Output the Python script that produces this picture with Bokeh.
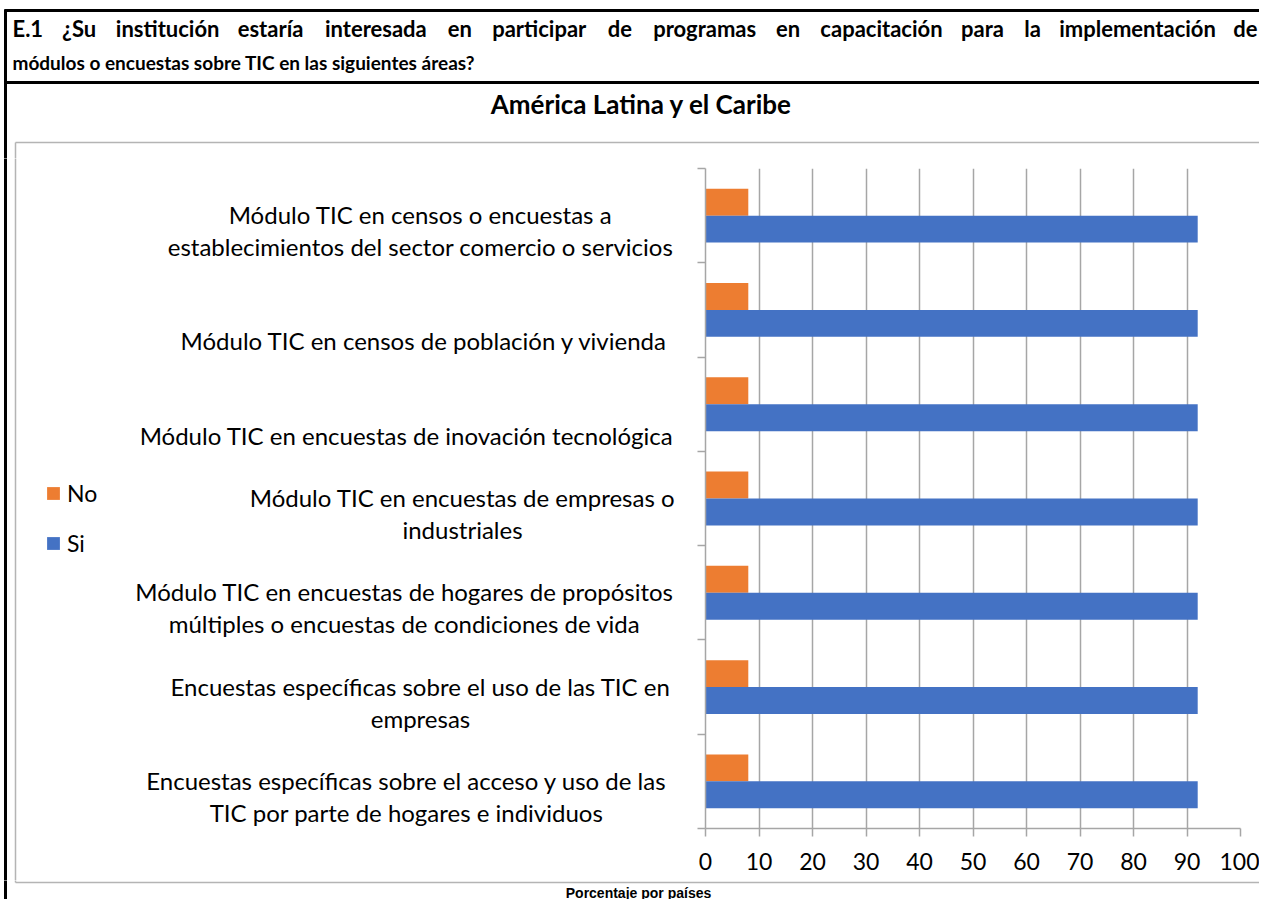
from bokeh.plotting import figure
from bokeh.layouts import column, row
from bokeh.models import (Range1d, FixedTicker, Label, Legend, LegendItem,
                          ColumnDataSource, Plot)
from bokeh.embed import file_html
from bokeh.resources import INLINE

# ---------------- data ----------------
categories = [
    "Encuestas específicas sobre el acceso y uso de las\nTIC por parte de hogares e individuos",
    "Encuestas específicas sobre el uso de las TIC en\nempresas",
    "Módulo TIC en encuestas de hogares de propósitos\nmúltiples o encuestas de condiciones de vida",
    "Módulo TIC en encuestas de empresas o\nindustriales",
    "Módulo TIC en encuestas de inovación tecnológica",
    "Módulo TIC en censos de población y vivienda",
    "Módulo TIC en censos o encuestas a\nestablecimientos del sector comercio o servicios",
]
si_values = [92, 92, 92, 92, 92, 92, 92]
no_values = [8, 8, 8, 8, 8, 8, 8]
x_ticks = [0, 10, 20, 30, 40, 50, 60, 70, 80, 90, 100]
series_names = ["No", "Si"]

header_line1 = ["E.1", "¿Su", "institución", "estaría", "interesada", "en", "participar",
                "de", "programas", "en", "capacitación", "para", "la",
                "implementación", "de"]
header_line2 = "módulos o encuestas sobre TIC en las siguientes áreas?"
chart_title = "América Latina y el Caribe"
x_title = "Porcentaje por países"

# ---------------- layout (canvas px, origin top-left) ----------------
W, H = 1259, 899
FL, FR, FT, FB = 705, 1240, 168, 828      # bar-area frame
SPLIT_TOP = 158                           # bottom of header strip
SPLIT_BOT = 880                           # top of footer strip
LEFT_W = 695                              # width of the label column
N = len(categories)
BAND = (FB - FT) / N
# approximate rendered widths of the header words at 21px (for justification)
word_w21 = [28, 32, 97, 64, 98, 23, 91, 24, 98, 23, 115, 41, 14, 147, 23]
HDR_SIZE = 22
HDR_L, HDR_R = 12, 1257
label_centers = [406, 420, 404, 462, 406, 424, 420]   # x centre of each label block
ORANGE, BLUE = "#ED7D31", "#4472C4"
GRID = "#a6a6a6"
BOX_GRAY = "#b4b4b4"
FONT = "Lato"
NO_ALIGN = "frame_align" in Plot.properties()


def unalign(f):
    if NO_ALIGN:
        f.frame_align = False
    return f


def blank(width, height, x0, x1, y0, y1):
    f = figure(width=width, height=height, output_backend="svg",
               toolbar_location=None, x_range=Range1d(x0, x1),
               y_range=Range1d(y1, y0), x_axis_type=None, y_axis_type=None,
               min_border=0)
    f.outline_line_color = None
    f.grid.grid_line_color = None
    return unalign(f)


def vline(f, x, y0, y1, color, w):
    f.segment(x0=[x], y0=[y0], x1=[x], y1=[y1], line_color=color, line_width=w)


def hline(f, y, x0, x1, color, w):
    f.segment(x0=[x0], y0=[y], x1=[x1], y1=[y], line_color=color, line_width=w)


def text(f, x, y, s, size, align="left", bold=False, font=FONT, baseline="middle"):
    f.add_layout(Label(x=x, y=y, text=s, text_align=align, text_baseline=baseline,
                       text_font=font, text_font_size=size,
                       text_font_style="bold" if bold else "normal",
                       text_color="black"))


# ---- header strip ----
p_top = blank(W, SPLIT_TOP, 0, W, 0, SPLIT_TOP)
hline(p_top, 10, 4, W + 20, "black", 3)
hline(p_top, 82, 4, W + 20, "black", 3)
vline(p_top, 5, 9, SPLIT_TOP + 5, "black", 3)
hline(p_top, 142, 15, W + 20, BOX_GRAY, 1.5)
vline(p_top, 15, 142, SPLIT_TOP + 5, BOX_GRAY, 1.5)

# justified first header line: equal gaps between words
widths = [w * HDR_SIZE / 21 for w in word_w21]
gap = (HDR_R - HDR_L - sum(widths)) / (len(widths) - 1)
xpos = HDR_L
for j, (wd, ww) in enumerate(zip(header_line1, widths)):
    if j == len(widths) - 1:
        text(p_top, HDR_R, 28, wd, f"{HDR_SIZE}px", align="right", bold=True)
    else:
        text(p_top, xpos, 28, wd, f"{HDR_SIZE}px", bold=True)
    xpos += ww + gap
text(p_top, 12, 62, header_line2, "19px", bold=True)
text(p_top, 641, 103, chart_title, "26px", align="center", bold=True)

# ---- label column ----
p_left = blank(LEFT_W, SPLIT_BOT - SPLIT_TOP, 0, LEFT_W, SPLIT_TOP, SPLIT_BOT)
vline(p_left, 5, SPLIT_TOP - 5, SPLIT_BOT + 5, "black", 3)
vline(p_left, 15, SPLIT_TOP - 5, SPLIT_BOT + 5, BOX_GRAY, 1.5)
LINE = 32
for i, cat in enumerate(categories):
    lines = cat.split("\n")
    n = len(lines)
    yc = FT + (N - 0.5 - i) * BAND
    for k, ln in enumerate(lines):
        text(p_left, label_centers[i], yc + 31 - LINE * (n - 1 - k), ln, "24px",
             align="center")

# legend proxies (zero-size, they only feed the legend swatches)
leg_no = p_left.hbar(y=[-1000], right=[0], left=0, height=0,
                     color=ORANGE, line_color=None)
leg_si = p_left.hbar(y=[-1000], right=[0], left=0, height=0,
                     color=BLUE, line_color=None)
legend = Legend(items=[LegendItem(label=series_names[0], renderers=[leg_no]),
                       LegendItem(label=series_names[1], renderers=[leg_si])],
                location=(45, SPLIT_BOT - 557), orientation="vertical",
                glyph_width=16, glyph_height=16, label_height=26, spacing=22,
                padding=0, margin=0, label_standoff=6,
                label_text_font=FONT, label_text_font_size="23px",
                label_text_color="black", border_line_color=None,
                background_fill_alpha=0)
p_left.add_layout(legend, "center")

# ---- bar chart ----
bar_h = 1 / 3.5
src = ColumnDataSource(dict(
    y_no=[i + bar_h / 2 for i in range(N)],
    y_si=[i - bar_h / 2 for i in range(N)],
    no=no_values, si=si_values))

p = figure(width=W - LEFT_W, height=SPLIT_BOT - SPLIT_TOP, output_backend="svg",
           toolbar_location=None, x_range=Range1d(0, 100),
           y_range=Range1d(-0.5, N - 0.5),
           min_border_left=FL - LEFT_W, min_border_right=W - FR,
           min_border_top=FT - SPLIT_TOP, min_border_bottom=SPLIT_BOT - FB)
unalign(p)
p.outline_line_color = None

p.hbar(y="y_no", right="no", left=0, height=bar_h, source=src,
       color=ORANGE, line_color=None)
p.hbar(y="y_si", right="si", left=0, height=bar_h, source=src,
       color=BLUE, line_color=None)

p.xaxis.ticker = FixedTicker(ticks=x_ticks)
p.xaxis.axis_line_color = GRID
p.xaxis.axis_line_width = 1.5
p.xaxis.major_tick_line_color = GRID
p.xaxis.major_tick_line_width = 1.5
p.xaxis.major_tick_out = 8
p.xaxis.major_tick_in = 0
p.xaxis.minor_tick_line_color = None
p.xaxis.major_label_standoff = 16
p.xaxis.major_label_text_font = FONT
p.xaxis.major_label_text_font_size = "23px"
p.xaxis.major_label_text_color = "black"

p.yaxis.ticker = FixedTicker(ticks=[i - 0.5 for i in range(N + 1)])
p.yaxis.axis_line_color = GRID
p.yaxis.axis_line_width = 1.5
p.yaxis.major_tick_line_color = GRID
p.yaxis.major_tick_line_width = 1.5
p.yaxis.major_tick_out = 8
p.yaxis.major_tick_in = 0
p.yaxis.minor_tick_line_color = None
p.yaxis.major_label_standoff = 0
p.yaxis.major_label_text_font_size = "1px"
p.yaxis.major_label_text_color = None

p.xgrid.ticker = FixedTicker(ticks=x_ticks)
p.xgrid.grid_line_color = GRID
p.xgrid.grid_line_width = 1.5
p.ygrid.grid_line_color = None

# ---- footer strip ----
p_bot = blank(W, H - SPLIT_BOT, 0, W, SPLIT_BOT, H)
vline(p_bot, 5, SPLIT_BOT - 5, H + 5, "black", 3)
vline(p_bot, 15, SPLIT_BOT - 5, 882, BOX_GRAY, 1.5)
hline(p_bot, 882, 15, W + 20, BOX_GRAY, 1.5)
text(p_bot, 638, 884, x_title, "14px", align="center", bold=True,
     font="Liberation Sans", baseline="top")

layout = column(p_top, row(p_left, p, spacing=0), p_bot, spacing=0)
open("out.html", "w").write(file_html(layout, INLINE))
